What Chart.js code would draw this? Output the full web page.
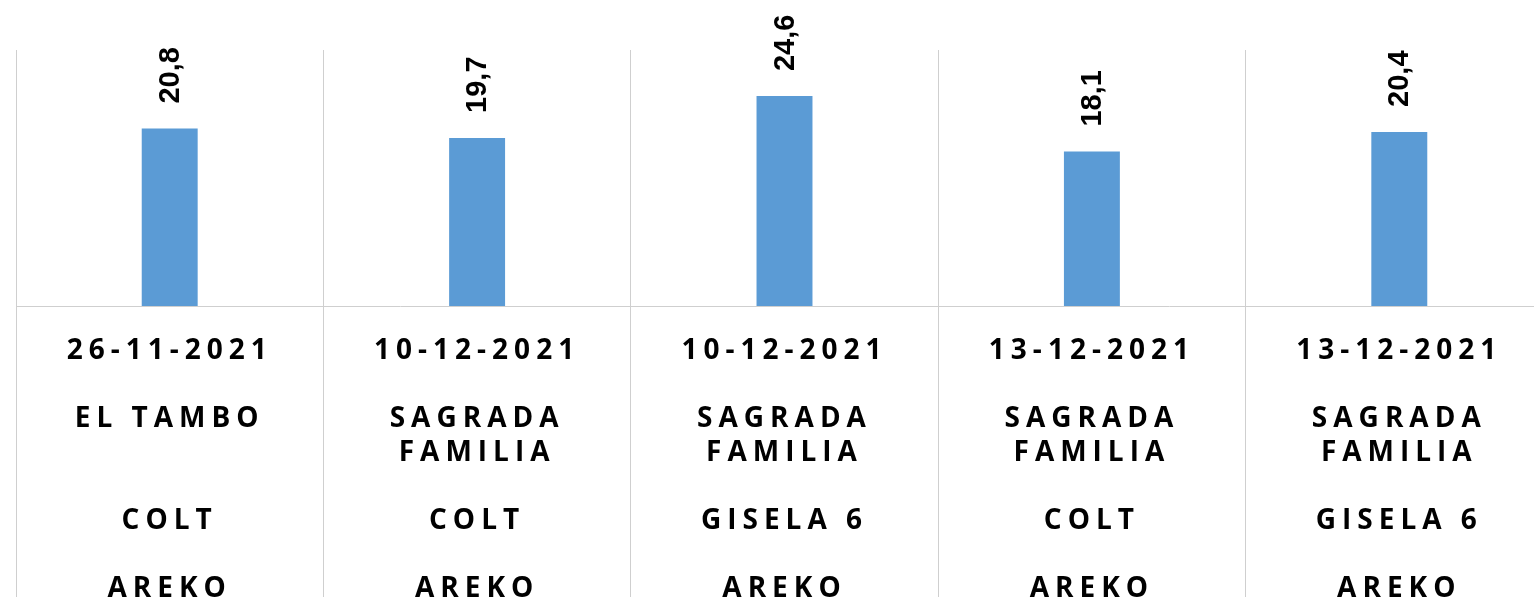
<!DOCTYPE html>
<html>
<head>
<meta charset="utf-8">
<script src="https://cdn.jsdelivr.net/npm/chart.js@4"></script>
<style>
  html, body { margin: 0; padding: 0; background: #fff; overflow: hidden; }
</style>
</head>
<body>
<canvas id="grafico" width="1570" height="597"></canvas>
<script>
// dati
const fechas = ["26-11-2021", "10-12-2021", "10-12-2021", "13-12-2021", "13-12-2021"];
const lugares = [["EL TAMBO"], ["SAGRADA", "FAMILIA"], ["SAGRADA", "FAMILIA"], ["SAGRADA", "FAMILIA"], ["SAGRADA", "FAMILIA"]];
const variedades = ["COLT", "COLT", "GISELA 6", "COLT", "GISELA 6"];
const empresas = ["AREKO", "AREKO", "AREKO", "AREKO", "AREKO"];
const valores = [20.8, 19.7, 24.6, 18.1, 20.4];

// etichette multilivello (una riga vuota fra i livelli)
const etichette = fechas.map((f, i) => [
    f, "", lugares[i][0], lugares[i][1] || "", "", variedades[i], "", empresas[i]
]);

// spaziatura lettere per le etichette dell'asse
const spaziatura = {
    id: "spaziatura",
    beforeDraw(chart) { chart.ctx.letterSpacing = "6px"; },
    beforeDatasetsDraw(chart) { chart.ctx.letterSpacing = "0px"; }
};

// valori ruotati sopra le barre
const etichetteValori = {
    id: "etichetteValori",
    afterDatasetsDraw(chart) {
        const ctx = chart.ctx;
        const meta = chart.getDatasetMeta(0);
        meta.data.forEach((bar, i) => {
            ctx.save();
            ctx.letterSpacing = "0px";
            ctx.translate(bar.x + 1, bar.y - 25);
            ctx.rotate(-Math.PI / 2);
            ctx.font = "bold 29px 'Liberation Sans', Arial, sans-serif";
            ctx.fillStyle = "#000";
            ctx.textAlign = "left";
            ctx.textBaseline = "middle";
            ctx.fillText(valores[i].toFixed(1).replace(".", ","), 0, 0);
            ctx.restore();
        });
    }
};

new Chart(document.getElementById("grafico"), {
    type: "bar",
    data: {
        labels: etichette,
        datasets: [{
            data: valores,
            backgroundColor: "#5b9bd5",
            borderWidth: 0,
            barPercentage: 0.182,
            categoryPercentage: 1
        }]
    },
    options: {
        responsive: false,
        animation: false,
        layout: { padding: { top: 50, left: 16, right: 17, bottom: 0 } },
        plugins: {
            legend: { display: false },
            tooltip: { enabled: false }
        },
        scales: {
            y: {
                display: false,
                min: 0,
                max: 30
            },
            x: {
                offset: true,
                grid: {
                    offset: true,
                    color: "#cfcfcf",
                    lineWidth: 1,
                    tickLength: 300
                },
                border: { display: true, color: "#cfcfcf", width: 1 },
                ticks: {
                    autoSkip: false,
                    maxRotation: 0,
                    padding: -272,
                    color: "#000",
                    font: { family: "'Open Sans', sans-serif", size: 28, weight: "bold", lineHeight: "34px" }
                },
                afterFit(scale) { scale.height = 291; }
            }
        }
    },
    plugins: [spaziatura, etichetteValori]
});
</script>
</body>
</html>
